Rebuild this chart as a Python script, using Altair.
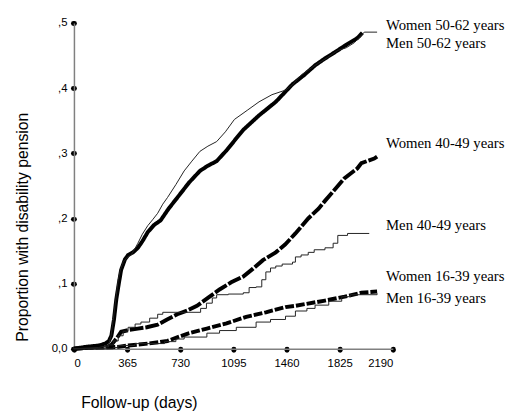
import altair as alt
import pandas as pd

# ---- data (days, cumulative proportion) ----
w5062_d = [0, 80, 170, 216, 240, 257, 275, 291, 308, 324, 350, 372, 406, 439, 470, 507, 550, 595, 650, 710, 790, 865, 920, 980, 1050, 1115, 1163, 1270, 1386, 1501, 1580, 1656, 1720, 1791, 1859, 1947, 1981]
w5062_v = [0, 0.003, 0.005, 0.008, 0.012, 0.02, 0.045, 0.076, 0.10, 0.121, 0.137, 0.144, 0.148, 0.155, 0.165, 0.179, 0.19, 0.197, 0.215, 0.232, 0.255, 0.273, 0.281, 0.288, 0.305, 0.323, 0.336, 0.358, 0.379, 0.406, 0.42, 0.435, 0.445, 0.455, 0.465, 0.477, 0.485]

m5062_d = [0, 170, 237, 255, 270, 287, 304, 320, 338, 365, 392, 415, 439, 470, 507, 540, 575, 610, 642, 700, 757, 810, 865, 920, 980, 1040, 1102, 1190, 1271, 1360, 1453, 1500, 1560, 1656, 1740, 1812, 1870, 1927, 1994, 2082]
m5062_v = [0, 0.002, 0.005, 0.02, 0.045, 0.075, 0.106, 0.122, 0.133, 0.140, 0.144, 0.152, 0.162, 0.176, 0.189, 0.198, 0.208, 0.222, 0.232, 0.252, 0.273, 0.288, 0.303, 0.311, 0.318, 0.333, 0.352, 0.366, 0.379, 0.39, 0.397, 0.405, 0.42, 0.435, 0.447, 0.458, 0.462, 0.470, 0.486, 0.486]

w4049_d = [0, 100, 200, 237, 257, 290, 324, 380, 439, 500, 575, 640, 710, 780, 845, 920, 1000, 1080, 1163, 1230, 1298, 1386, 1450, 1521, 1609, 1680, 1724, 1771, 1859, 1947, 1974, 2062, 2082]
w4049_v = [0, 0.002, 0.003, 0.004, 0.006, 0.015, 0.026, 0.029, 0.031, 0.033, 0.037, 0.045, 0.053, 0.059, 0.066, 0.078, 0.091, 0.102, 0.111, 0.123, 0.136, 0.148, 0.16, 0.177, 0.200, 0.215, 0.227, 0.239, 0.262, 0.277, 0.285, 0.292, 0.295]

m4049_d = [0, 203, 237, 270, 304, 338, 372, 420, 460, 520, 575, 610, 870, 910, 950, 980, 1060, 1163, 1203, 1251, 1290, 1318, 1350, 1386, 1430, 1501, 1521, 1560, 1609, 1650, 1724, 1780, 1812, 1879, 2028]
m4049_v = [0, 0.003, 0.006, 0.012, 0.020, 0.027, 0.033, 0.038, 0.041, 0.047, 0.053, 0.056, 0.062, 0.070, 0.078, 0.083, 0.084, 0.086, 0.094, 0.095, 0.106, 0.118, 0.124, 0.127, 0.130, 0.133, 0.141, 0.144, 0.148, 0.152, 0.155, 0.162, 0.174, 0.177, 0.177]

w1639_d = [0, 150, 304, 372, 507, 642, 777, 913, 1048, 1183, 1318, 1453, 1521, 1724, 1859, 1974, 2082]
w1639_v = [0, 0.002, 0.003, 0.005, 0.008, 0.012, 0.023, 0.031, 0.039, 0.049, 0.056, 0.064, 0.066, 0.074, 0.080, 0.086, 0.088]

m1639_d = [0, 270, 304, 419, 622, 700, 757, 913, 1000, 1115, 1251, 1350, 1453, 1521, 1600, 1656, 1750, 1839, 1900, 2082]
m1639_v = [0, 0.002, 0.005, 0.008, 0.011, 0.015, 0.018, 0.024, 0.028, 0.033, 0.041, 0.045, 0.050, 0.058, 0.062, 0.067, 0.073, 0.080, 0.083, 0.085]

x_ticks = [0, 365, 730, 1095, 1460, 1825, 2190]
y_ticks = [0.0, 0.1, 0.2, 0.3, 0.4, 0.5]

label_text = ["Women 50-62 years", "Men 50-62 years", "Women 40-49 years",
              "Men 40-49 years", "Women 16-39 years", "Men 16-39 years"]
label_y = [0.489, 0.461, 0.308, 0.183, 0.104, 0.071]
label_x = [2143] * 6

# ---- tables ----
def frame(name, d, v):
    return pd.DataFrame({"series": name, "day": d, "value": v})

women = pd.concat([
    frame("Women 50-62", w5062_d, w5062_v),
    frame("Women 40-49", w4049_d, w4049_v),
    frame("Women 16-39", w1639_d, w1639_v),
])
men_smooth = frame("Men 50-62", m5062_d, m5062_v)
men_steps = pd.concat([
    frame("Men 40-49", m4049_d, m4049_v),
    frame("Men 16-39", m1639_d, m1639_v),
])
labels = pd.DataFrame({"text": label_text, "day": label_x, "value": label_y})

xs = alt.Scale(domain=[0, 2190], nice=False, zero=False)
ys = alt.Scale(domain=[0, 0.5], nice=False)

x_axis = alt.Axis(
    values=x_ticks, title="Follow-up (days)", grid=False, format="d",
    domainColor="#808080", domainWidth=1.5,
    tickColor="black", tickWidth=5, tickSize=1, tickCap="round",
    labelFont="Liberation Sans", labelFontSize=11.5, labelColor="black",
    labelPadding=8,
    titleFont="Liberation Sans", titleFontSize=16, titleFontWeight="normal",
    titleColor="black", titleX=66, titleY=60, titleAlign="center",
    titleBaseline="alphabetic",
)
y_axis = alt.Axis(
    values=y_ticks, title="Proportion with disability pension", grid=False,
    labelExpr="datum.value == 0 ? '0,0' : ',' + format(datum.value * 10, 'd')",
    domainColor="#808080", domainWidth=1.5,
    tickColor="black", tickWidth=5, tickSize=1, tickCap="round",
    labelFont="Liberation Sans", labelFontSize=11.5, labelColor="black",
    labelPadding=6,
    titleFont="Liberation Sans", titleFontSize=16, titleFontWeight="normal",
    titleColor="black", titleX=-47, titleY=207, titleAlign="center",
    titleBaseline="alphabetic", titleAngle=270,
)

women_layer = alt.Chart(women).mark_line(
    interpolate="linear", color="black", strokeWidth=4, strokeCap="butt",
    strokeJoin="miter"
).encode(
    x=alt.X("day:Q", scale=xs, axis=x_axis),
    y=alt.Y("value:Q", scale=ys, axis=y_axis),
    detail="series:N",
    strokeDash=alt.StrokeDash(
        "series:N",
        scale=alt.Scale(domain=["Women 50-62", "Women 40-49", "Women 16-39"],
                        range=[[1, 0], [14, 2], [9, 2]]),
        legend=None,
    ),
)

men_smooth_layer = alt.Chart(men_smooth).mark_line(
    interpolate="linear", color="#222222", strokeWidth=1
).encode(
    x=alt.X("day:Q", scale=xs),
    y=alt.Y("value:Q", scale=ys),
    detail="series:N",
)

men_steps_layer = alt.Chart(men_steps).mark_line(
    interpolate="step-after", color="#222222", strokeWidth=1
).encode(
    x=alt.X("day:Q", scale=xs),
    y=alt.Y("value:Q", scale=ys),
    detail="series:N",
)

text_layer = alt.Chart(labels).mark_text(
    align="left", baseline="alphabetic", font="Liberation Serif",
    fontSize=15, color="black"
).encode(
    x=alt.X("day:Q", scale=xs),
    y=alt.Y("value:Q", scale=ys),
    text="text:N",
)

chart = alt.layer(women_layer, men_smooth_layer, men_steps_layer, text_layer).properties(
    width=324, height=331,
    autosize=alt.AutoSizeParams(type="none"),
    padding={"left": 67, "top": 12, "right": 116, "bottom": 63},
    background="white",
).configure_view(stroke=None)

chart.save("out.html", embed_options={"renderer": "svg", "actions": False})
